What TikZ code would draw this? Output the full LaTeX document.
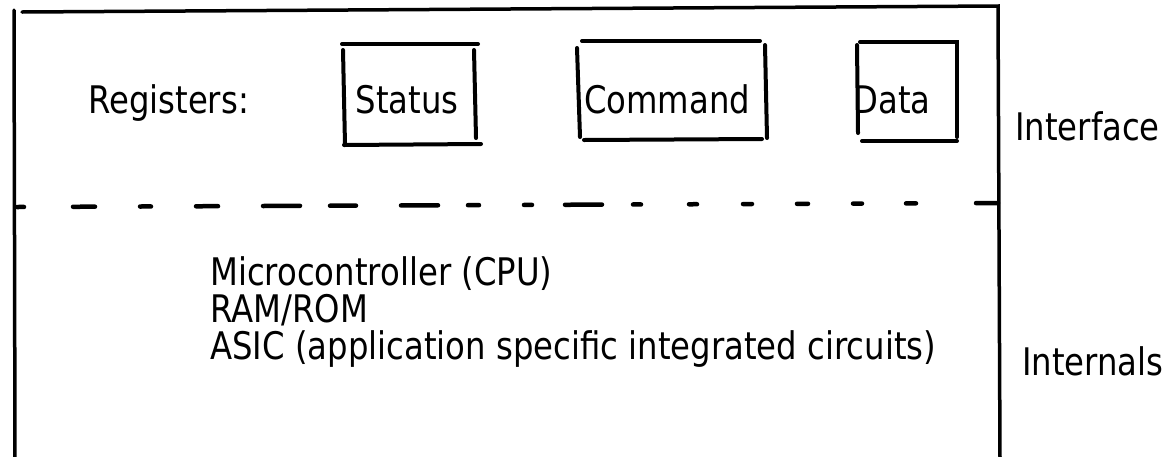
\documentclass[tikz,border=0pt]{standalone}
\usepackage{fontspec}
\setmainfont{DejaVu Sans}[FakeStretch=0.85]
\begin{document}
\begin{tikzpicture}[x=1pt,y=-1pt,
  pen/.style={line width=4pt, line cap=round},
  framepen/.style={line width=3.5pt, line cap=round},
  divider/.style={line width=4.5pt, line cap=round,
    dash pattern=on 7pt off 49pt on 22pt off 45pt on 11pt off 45pt on 22pt off 45pt
                 on 37pt off 30pt on 26pt off 45pt on 37pt off 30pt on 11pt off 45pt
                 on 8pt off 33pt on 37pt off 31pt on 8pt off 48pt on 8pt off 46pt
                 on 9pt off 45pt on 11pt off 45pt on 9pt off 44pt on 10pt off 60pt
                 on 30pt off 10pt},
  lbl/.style={inner sep=0pt, anchor=base west, font=\fontsize{38}{44}\selectfont},
  cell/.style={inner sep=0pt, anchor=base, font=\fontsize{38}{44}\selectfont},
]
\useasboundingbox (0,0) rectangle (1169,456);

% outer device frame (open at the bottom)
\coordinate (fl0) at (14,10);  \coordinate (fl1) at (15,460);
\coordinate (ft0) at (22,12);  \coordinate (ft1) at (998,6);
\coordinate (fr1) at (1000,460);
\draw[framepen] (fl0) -- (fl1);
\draw[framepen] (ft0) -- (ft1) -- (fr1);

% boundary between interface and internals
\coordinate (d0) at (17,207); \coordinate (d1) at (998,203);
\draw[divider] (d0) -- (d1);

% register row
\node[lbl] (reg) at (88,113) {Registers:};
\node[cell] (status) at (407,113) {Status};
\node[cell] (command) at (667,113) {Command};
\node[cell] (data) at (892,113) {Data};

% Status box
\draw[pen] (342,44) -- (478,44);
\draw[pen] (343,50) -- (345,145);
\draw[pen] (474,50) -- (476,138);
\draw[pen] (344,145) -- (481,144);
% Command box
\draw[pen] (582,41) -- (760,41);
\draw[pen] (577,48) -- (580,137);
\draw[pen] (765,45) -- (767,138);
\draw[pen] (584,140) -- (762,139);
% Data box
\draw[pen] (860,42) -- (957,42) -- (957,137);
\draw[pen] (857,45) -- (858,133);
\draw[pen] (862,141) -- (957,141);

% side labels
\node[lbl] (iface) at (1015,140) {Interface};
\node[lbl] (intern) at (1022,375) {Internals};

% internal components
\node[lbl] (cpu) at (210,285) {Microcontroller (CPU)};
\node[lbl] (mem) at (210,322) {RAM/ROM};
\node[lbl] (asic) at (210,359) {ASIC (application specific integrated circuits)};
\end{tikzpicture}
\end{document}
